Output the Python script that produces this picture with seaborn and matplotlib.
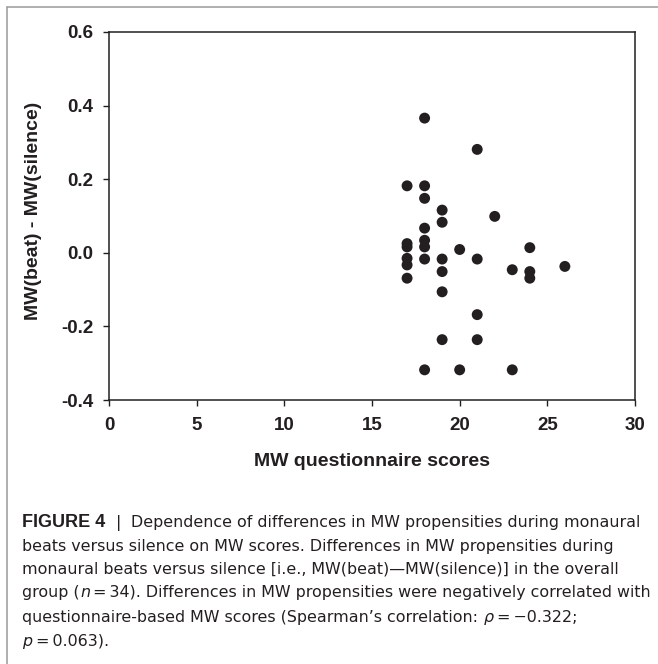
import matplotlib
matplotlib.use("Agg")
import matplotlib.pyplot as plt
import pandas as pd
import seaborn as sns
from matplotlib.lines import Line2D

# MW questionnaire scores and the beat - silence difference
scores = [17, 17, 17, 17, 17, 17,
          18, 18, 18, 18, 18, 18, 18, 18,
          19, 19, 19, 19, 19, 19,
          20, 20,
          21, 21, 21, 21,
          22,
          23, 23,
          24, 24, 24,
          26]
diffs = [0.182, 0.025, 0.016, -0.015, -0.033, -0.069,
         0.366, 0.182, 0.148, 0.067, 0.034, 0.016, -0.017, -0.318,
         0.116, 0.083, -0.017, -0.051, -0.106, -0.236,
         0.009, -0.318,
         0.281, -0.017, -0.168, -0.236,
         0.099,
         -0.046, -0.318,
         0.014, -0.051, -0.069,
         -0.037]
x_ticks = [0, 5, 10, 15, 20, 25, 30]
y_ticks = [-0.4, -0.2, 0.0, 0.2, 0.4, 0.6]

df = pd.DataFrame({"score": scores, "diff": diffs})

sns.set_style("white")
plt.rcParams["font.family"] = ["Liberation Sans", "DejaVu Sans"]
plt.rcParams["axes.unicode_minus"] = False

W, H = 658, 664
fig = plt.figure(figsize=(W / 100, H / 100), dpi=100)
ax = fig.add_axes([109 / W, 1 - 400 / H, (635 - 109) / W, (400 - 32) / H])

sns.scatterplot(data=df, x="score", y="diff", ax=ax, color="#231f20",
                s=62, edgecolor="none", linewidth=0, legend=False)

ax.set_xlim(0, 30)
ax.set_ylim(-0.4, 0.6)
ax.set_xticks(x_ticks)
ax.set_yticks(y_ticks)
ax.set_xticklabels([str(t) for t in x_ticks], fontsize=13.5, fontweight="bold", color="#231f20")
ax.set_yticklabels([f"{t:.1f}" for t in y_ticks], fontsize=13.5, fontweight="bold", color="#231f20")
ax.tick_params(axis="x", direction="out", length=4, width=1, pad=8, color="#231f20",
               bottom=True, top=False)
ax.tick_params(axis="y", direction="out", length=4, width=1, pad=7, color="#231f20",
               left=True, right=False)
for sp in ax.spines.values():
    sp.set_visible(True)
    sp.set_color("#231f20")
    sp.set_linewidth(1.1)

ax.set_xlabel("MW questionnaire scores", fontsize=14, fontweight="bold", color="#231f20")
ax.set_ylabel("MW(beat) - MW(silence)", fontsize=14, fontweight="bold", color="#231f20")
ax.xaxis.set_label_coords(0.5, (400 - 461) / 368)
ax.xaxis.label.set_va("center")
ax.yaxis.set_label_coords((33 - 109) / 526, (400 - 211) / 368)
ax.yaxis.label.set_va("center")

# page border (top and left only, cropped figure)
fig.add_artist(Line2D([7 / W, 1], [1 - 7 / H, 1 - 7 / H], transform=fig.transFigure,
                      color="#9a9a9a", lw=1.1))
fig.add_artist(Line2D([7 / W, 7 / W], [1 - 7 / H, 0], transform=fig.transFigure,
                      color="#9a9a9a", lw=1.1))

# caption
cap_font = ["DejaVu Sans"]
cap_size = 11.4
reg = dict(fontsize=cap_size, family=cap_font, color="#231f20")
bold = dict(fontsize=13, family=["Liberation Sans", "DejaVu Sans"],
            color="#231f20", fontweight="bold")
ital = dict(fontsize=cap_size, family=cap_font, color="#231f20", fontstyle="italic")

caption = [
    [("FIGURE 4", bold), ("  |  ", reg),
     ("Dependence of differences in MW propensities during monaural", reg)],
    [("beats versus silence on MW scores. Differences in MW propensities during", reg)],
    [("monaural beats versus silence [i.e., MW(beat)\u2014MW(silence)] in the overall", reg)],
    [("group (", reg), ("n", ital),
     ("\u2009=\u200934). Differences in MW propensities were negatively correlated with", reg)],
    [("questionnaire-based MW scores (Spearman\u2019s correlation: ", reg), ("\u03c1", ital),
     ("\u2009=\u2009\u22120.322;", reg)],
    [("p", ital), ("\u2009=\u20090.063).", reg)],
]
baselines = [526.7, 550.7, 574.0, 597.3, 621.7, 645.7]

renderer = fig.canvas.get_renderer()
for line, yb in zip(caption, baselines):
    x = 22.5
    for txt, kw in line:
        t = fig.text(x / W, 1 - yb / H, txt, va="baseline", ha="left", **kw)
        x += t.get_window_extent(renderer).width

fig.savefig("out.png", dpi=100)
